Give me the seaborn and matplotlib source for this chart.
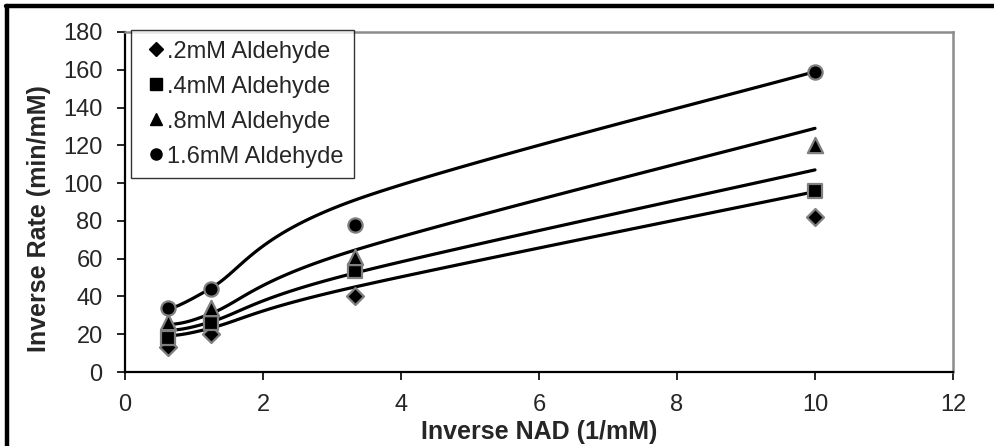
import numpy as np
import pandas as pd
import matplotlib
matplotlib.use("Agg")
import matplotlib.pyplot as plt
from matplotlib.lines import Line2D
import seaborn as sns

# Inverse NAD concentrations (1/mM)
inv_nad = [0.625, 1.25, 3.33, 10.0]

series_names = [".2mM Aldehyde", ".4mM Aldehyde", ".8mM Aldehyde", "1.6mM Aldehyde"]

# Measured inverse rates (min/mM)
rate_02 = [13.5, 20.0, 40.0, 82.0]
rate_04 = [17.8, 25.8, 53.5, 96.0]
rate_08 = [26.5, 34.0, 61.0, 120.0]
rate_16 = [33.7, 43.8, 78.0, 159.0]

# Model fit values at the same concentrations
fit_02 = [19.0, 23.3, 45.0, 95.5]
fit_04 = [21.9, 26.6, 52.4, 107.0]
fit_08 = [24.9, 31.0, 64.5, 129.0]
fit_16 = [32.8, 44.5, 91.0, 159.0]

x_ticks = [0, 2, 4, 6, 8, 10, 12]
y_ticks = [0, 20, 40, 60, 80, 100, 120, 140, 160, 180]

sns.set_style("white")
plt.rcParams["font.family"] = ["Liberation Sans", "DejaVu Sans"]


def smooth_curve(xs, ys, n=40):
    """Bezier smoothing through the points (spreadsheet-style smoothed line)."""
    pts = np.column_stack([xs, ys]).astype(float)
    m = len(pts)
    out = []
    for i in range(m - 1):
        p0 = pts[max(i - 1, 0)]
        p1 = pts[i]
        p2 = pts[i + 1]
        p3 = pts[min(i + 2, m - 1)]
        c1 = p1 + (p2 - p0) / 6.0
        c2 = p2 - (p3 - p1) / 6.0
        t = np.linspace(0, 1, n)[:, None]
        seg = ((1 - t) ** 3) * p1 + 3 * ((1 - t) ** 2) * t * c1 + 3 * (1 - t) * t ** 2 * c2 + t ** 3 * p2
        out.append(seg if i == 0 else seg[1:])
    seg = np.vstack(out)
    return seg[:, 0], seg[:, 1]


rates = [rate_02, rate_04, rate_08, rate_16]
fits = [fit_02, fit_04, fit_08, fit_16]

points = pd.DataFrame({
    "x": np.tile(inv_nad, 4),
    "y": np.concatenate(rates),
    "series": np.repeat(series_names, 4),
})

curve_frames = []
for name, f in zip(series_names, fits):
    cx, cy = smooth_curve(inv_nad, f)
    curve_frames.append(pd.DataFrame({"x": cx, "y": cy, "series": name}))
curves = pd.concat(curve_frames, ignore_index=True)

fig = plt.figure(figsize=(9.95, 4.46), dpi=100)
ax = fig.add_axes([0.1256, 0.1659, 0.8322, 0.7624])

sns.lineplot(data=curves, x="x", y="y", units="series", estimator=None, sort=False,
             color="black", lw=2.3, ax=ax, legend=False, zorder=2)

marker_map = {series_names[0]: "D", series_names[1]: "s", series_names[2]: "^", series_names[3]: "o"}
size_map = {series_names[0]: 75, series_names[1]: 110, series_names[2]: 120, series_names[3]: 105}
for name in series_names:
    sub = points[points["series"] == name]
    sns.scatterplot(data=sub, x="x", y="y", marker=marker_map[name], s=size_map[name],
                    color="black", edgecolor="#7f7f7f", linewidth=1.6, ax=ax,
                    legend=False, zorder=3)

ax.set_xlim(0, 12)
ax.set_ylim(0, 180)
ax.set_xticks(x_ticks)
ax.set_yticks(y_ticks)
ax.tick_params(axis="both", which="major", labelsize=17, direction="out",
               length=6, width=1.2, color="black", left=True, bottom=True, pad=10)
ax.set_xlabel("Inverse NAD (1/mM)", fontsize=18, fontweight="bold", labelpad=3)
ax.set_ylabel("Inverse Rate (min/mM)", fontsize=18, fontweight="bold")
ax.yaxis.set_label_coords(-0.089, 0.45)

for side in ["left", "bottom"]:
    ax.spines[side].set_color("black")
    ax.spines[side].set_linewidth(1.6)
for side in ["top", "right"]:
    ax.spines[side].set_color("#8c8c8c")
    ax.spines[side].set_linewidth(1.8)

handles = [Line2D([], [], marker=marker_map[n], color="black", linestyle="none",
                  markersize=8 if n != series_names[0] else 7) for n in series_names]
leg = ax.legend(handles, series_names, loc="upper left", bbox_to_anchor=(0.007, 1.006),
                borderaxespad=0, frameon=True, fancybox=False, fontsize=17,
                handletextpad=-0.1, handlelength=1.2, labelspacing=0.55,
                borderpad=0.45)
leg.get_frame().set_edgecolor("black")
leg.get_frame().set_linewidth(1.0)

# outer panel frame
fig.add_artist(Line2D([0.006, 1.0], [0.986, 0.986], color="black", lw=3.2,
                      transform=fig.transFigure))
fig.add_artist(Line2D([0.0075, 0.0075], [0.0, 0.986], color="black", lw=3.2,
                      transform=fig.transFigure))

fig.savefig("out.png", dpi=100)
